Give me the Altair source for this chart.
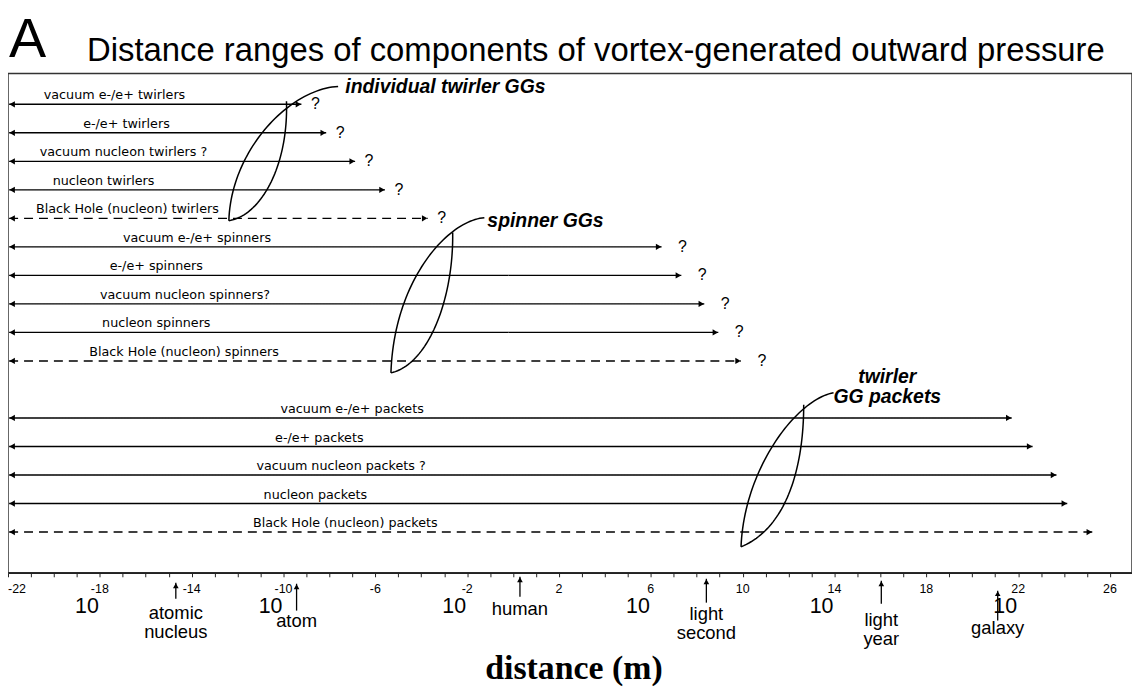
import altair as alt
import numpy as np
import pandas as pd

# ---------------- data ----------------
row_labels = [
    "vacuum e-/e+ twirlers", "e-/e+ twirlers", "vacuum nucleon twirlers ?",
    "nucleon twirlers", "Black Hole (nucleon) twirlers",
    "vacuum e-/e+ spinners", "e-/e+ spinners", "vacuum nucleon spinners?",
    "nucleon spinners", "Black Hole (nucleon) spinners",
    "vacuum e-/e+ packets", "e-/e+ packets", "vacuum nucleon packets ?",
    "nucleon packets", "Black Hole (nucleon) packets",
]
row_group = ["twirlers"] * 5 + ["spinners"] * 5 + ["packets"] * 5
# log10 of range end (m)
range_end = [-9.22, -8.14, -6.88, -5.58, -3.72,
             6.47, 7.33, 8.33, 8.94, 9.93,
             21.72, 22.63, 23.67, 24.14, 25.23]
range_start = -21.95
label_center = [-17.36, -16.84, -16.97, -17.84, -16.80,
                -13.77, -15.54, -14.29, -15.54, -14.33,
                -7.01, -8.44, -7.49, -8.61, -7.31]
line_style = ["solid", "solid", "solid", "solid", "dashed"] * 3

tick_exps = list(range(-22, 27, 4))
base_exps = [-18, -10, -2, 6, 14, 22]

landmark_names = ["atomic\nnucleus", "atom", "human", "light\nsecond", "light\nyear", "galaxy"]
landmark_exp = [-14.69, -9.43, 0.30, 8.42, 16.04, 21.11]

group_names = ["individual twirler GGs", "spinner GGs", "twirler\nGG packets"]

# lens annotation anchors (log10 distance, row slot): outer curve & inner curve
lens_anchors = {
    "twirl_outer": [(-7.62, -0.628), (-9.78, -0.523), (-12.29, 1.639), (-12.38, 4.081)],
    "twirl_inner": [(-9.87, -0.105), (-9.78, 2.163), (-10.99, 3.907), (-12.38, 4.081)],
    "spin_outer": [(-1.25, 3.976), (-2.85, 4.081), (-5.19, 6.174), (-5.32, 9.418)],
    "spin_inner": [(-2.63, 4.499), (-2.59, 6.871), (-3.72, 9.138), (-5.32, 9.418)],
    "pack_outer": [(13.96, 10.115), (12.32, 10.359), (10.06, 12.80), (9.93, 15.52)],
    "pack_inner": [(12.66, 10.534), (12.66, 12.80), (11.88, 14.869), (9.93, 15.52)],
}

# ---------------- layout ----------------
W, H = 1130, 502
PAD = {"left": 0, "top": 64, "right": 0, "bottom": 114}
LABEL_FONT = "DejaVu Sans"
SANS = "Liberation Sans"

rows = pd.DataFrame({
    "label": row_labels,
    "group": row_group,
    "end": range_end,
    "start": range_start,
    "lx": label_center,
    "style": line_style,
})
rows["slot"] = [i + (1 if g == "packets" else 0) for i, g in enumerate(row_group)]

xs = alt.Scale(domain=[-22, 26.96], nice=False, zero=False)
ys = alt.Scale(domain=[-1.081, 16.43], reverse=True, nice=False, zero=False)
x_axis = alt.Axis(values=list(range(-22, 27)), labels=False, ticks=True, tickSize=4,
                  tickColor="#222", domainColor="#222", domainWidth=1.5, tickWidth=1,
                  grid=False, title=None)


def X(f):
    return alt.X(f, type="quantitative", scale=xs, axis=x_axis)


def Y(f):
    return alt.Y(f, type="quantitative", scale=ys, axis=None)


base = alt.Chart(rows)

arrows = base.mark_rule(color="black", strokeWidth=1.4).encode(
    x=X("start"), x2="end", y=Y("slot"),
    strokeDash=alt.StrokeDash("style:N", scale=alt.Scale(domain=["solid", "dashed"],
                                                          range=[[1, 0], [9, 6]]), legend=None),
)
head_l = base.mark_point(shape="triangle-left", filled=True, size=40, color="black",
                         opacity=1, xOffset=3).encode(x=X("start"), y=Y("slot"))
head_r = base.mark_point(shape="triangle-right", filled=True, size=40, color="black",
                         opacity=1, xOffset=-3).encode(x=X("end"), y=Y("slot"))
row_text = base.mark_text(font=LABEL_FONT, fontSize=12.8, baseline="alphabetic",
                          align="center", dy=-5, color="black").encode(
    x=X("lx"), y=Y("slot"), text="label:N")
q_tw = base.transform_filter(alt.datum.group == "twirlers").mark_text(
    font=SANS, fontSize=16, baseline="middle", align="center", dx=14, color="black"
).encode(x=X("end"), y=Y("slot"), text=alt.value("?"))
q_sp = base.transform_filter(alt.datum.group == "spinners").mark_text(
    font=SANS, fontSize=16, baseline="middle", align="center", dx=21, color="black"
).encode(x=X("end"), y=Y("slot"), text=alt.value("?"))

# lens curves (cubic Bezier through anchors)
recs = []
tt = np.linspace(0, 1, 50)
for name, pts in lens_anchors.items():
    p = np.array(pts)
    c = ((1 - tt) ** 3)[:, None] * p[0] + (3 * (1 - tt) ** 2 * tt)[:, None] * p[1] \
        + (3 * (1 - tt) * tt ** 2)[:, None] * p[2] + (tt ** 3)[:, None] * p[3]
    for k, (cx, cy) in enumerate(c):
        recs.append({"curve": name, "k": k, "x": cx, "y": cy})
lens_df = pd.DataFrame(recs)
lenses = alt.Chart(lens_df).mark_line(color="black", strokeWidth=1.5).encode(
    x=X("x"), y=Y("y"), detail="curve:N", order="k:Q")

grp_df = pd.DataFrame({
    "name": group_names,
    "gx": [-7.31, -1.12, 16.30],
    "gy": [-0.40, 4.29, 9.78],
    "al": ["left", "left", "center"],
})
grp_left = alt.Chart(grp_df).transform_filter(alt.datum.al == "left").mark_text(
    font=SANS, fontSize=19.5, fontWeight="bold", fontStyle="italic", align="left",
    baseline="alphabetic", color="black").encode(x=X("gx"), y=Y("gy"), text="name:N")
grp_center = alt.Chart(grp_df).transform_filter(alt.datum.al == "center").mark_text(
    font=SANS, fontSize=19.5, fontWeight="bold", fontStyle="italic", align="center",
    baseline="alphabetic", lineBreak="\n", lineHeight=20, color="black").encode(
    x=X("gx"), y=Y("gy"), text="name:N")

# custom x tick labels
tk = pd.DataFrame({"e": tick_exps, "lab": [str(e) for e in tick_exps]})
exp_lab = alt.Chart(tk).transform_filter(alt.datum.e > -22).mark_text(
    font=SANS, fontSize=12.5, align="center", baseline="alphabetic", color="black").encode(
    x=X("e"), y=alt.value(522), text="lab:N")
exp_first = alt.Chart(tk).transform_filter(alt.datum.e == -22).mark_text(
    font=SANS, fontSize=12.5, align="left", baseline="alphabetic", color="black").encode(
    x=X("e"), y=alt.value(522), text="lab:N")
bs = pd.DataFrame({"e": base_exps})
ten_lab = alt.Chart(bs).mark_text(font=SANS, fontSize=21.5, align="right", dx=-1,
                                  baseline="alphabetic", color="black").encode(
    x=X("e"), y=alt.value(542), text=alt.value("10"))

# landmarks below the axis
lm = pd.DataFrame({
    "name": landmark_names,
    "e": landmark_exp,
    "top": [512, 513, 506, 508, 510, 520],
    "bot": [528, 540, 526, 532, 533, 550],
    "ty": [548, 556, 544, 549, 555, 564],
})
lm_rule = alt.Chart(lm).mark_rule(color="black", strokeWidth=1.3).encode(
    x=X("e"), y=alt.Y("top:Q", scale=None), y2="bot:Q")
lm_head = alt.Chart(lm).mark_point(shape="triangle-up", filled=True, size=32,
                                   color="black", opacity=1, yOffset=3).encode(
    x=X("e"), y=alt.Y("top:Q", scale=None))
lm_text = alt.Chart(lm).mark_text(font=SANS, fontSize=18.5, align="center",
                                  baseline="alphabetic", lineBreak="\n", lineHeight=20,
                                  color="black").encode(
    x=X("e"), y=alt.Y("ty:Q", scale=None), text="name:N")

one = pd.DataFrame({"t": ["A"]})
letter = alt.Chart(one).mark_text(font=SANS, fontSize=56, align="left",
                                  baseline="alphabetic", color="black").encode(
    x=alt.value(1), y=alt.value(-17), text=alt.value("A"))
title = alt.Chart(one).mark_text(font=SANS, fontSize=33, align="center",
                                 baseline="alphabetic", color="black").encode(
    x=alt.value(591), y=alt.value(-13),
    text=alt.value("Distance ranges of components of vortex-generated outward pressure"))
xtitle = alt.Chart(one).mark_text(font="Liberation Serif", fontSize=34, fontWeight="bold",
                                  align="center", baseline="alphabetic", color="black").encode(
    x=alt.value(569), y=alt.value(609), text=alt.value("distance (m)"))

chart = alt.layer(
    arrows, head_l, head_r, row_text, q_tw, q_sp, lenses, grp_left, grp_center,
    exp_lab, exp_first, ten_lab, lm_rule, lm_head, lm_text, letter, title, xtitle,
).properties(
    width=W, height=H, padding=PAD, autosize=alt.AutoSizeParams(type="none"),
    background="white",
).configure_view(stroke="#333", strokeWidth=1.5)

chart.save("out.html", embed_options={"renderer": "svg", "actions": False})
